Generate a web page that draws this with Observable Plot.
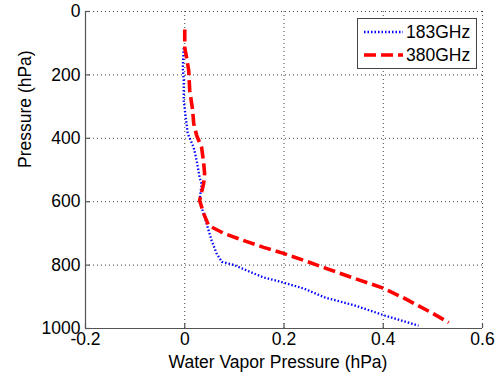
<!DOCTYPE html>
<html>
<head>
<meta charset="utf-8">
<script src="https://cdn.jsdelivr.net/npm/d3@7"></script>
<script src="https://cdn.jsdelivr.net/npm/@observablehq/plot@0.6"></script>
<style>
  html, body { margin: 0; padding: 0; background: #fff; }
  #chart svg { display: block; }
</style>
</head>
<body>
<div id="chart"></div>
<script>
// ---- Data ----
const seriesNames = ["183GHz", "380GHz"];

// 183GHz series (blue dotted)
const pressure183 = [115, 177, 218, 281, 334, 385, 429, 470, 524, 543, 596, 669, 722, 763, 790, 800, 817, 839, 855, 874, 902, 927, 959, 991];
const vapor183    = [-0.002, -0.004, -0.002, -0.002, 0.002, 0.006, 0.018, 0.024, 0.030, 0.034, 0.030, 0.044, 0.054, 0.064, 0.075, 0.100, 0.125, 0.159, 0.199, 0.240, 0.282, 0.342, 0.403, 0.471];

// 380GHz series (red dashed)
const pressure380 = [57, 114, 148, 186, 249, 312, 353, 391, 429, 476, 511, 543, 596, 637, 675, 700, 726, 744, 763, 785, 811, 842, 871, 905, 950, 981];
const vapor380    = [0, 0, 0.004, 0.008, 0.010, 0.016, 0.018, 0.024, 0.034, 0.038, 0.040, 0.038, 0.030, 0.038, 0.048, 0.079, 0.125, 0.159, 0.199, 0.240, 0.286, 0.342, 0.397, 0.443, 0.497, 0.532];

const xTicks = [-0.2, 0, 0.2, 0.4, 0.6];
const xTickLabels = ["-0.2", "0", "0.2", "0.4", "0.6"];
const yTicks = [0, 200, 400, 600, 800, 1000];
const yTickLabels = ["0", "200", "400", "600", "800", "1000"];

const xTitle = "Water Vapor Pressure (hPa)";
const yTitle = "Pressure (hPa)";

// ---- Build tables ----
const data183 = pressure183.map((p, i) => ({p, v: vapor183[i]}));
const data380 = pressure380.map((p, i) => ({p, v: vapor380[i]}));

const FONT = "'Liberation Sans', Arial, Helvetica, sans-serif";
const FS = 17.5;
const axisColor = "#555";
const blueDash = "1.5,2";
const redDash = "12,5";

const plot = Plot.plot({
  width: 497,
  height: 381,
  marginLeft: 85,
  marginRight: 15,
  marginTop: 11,
  marginBottom: 53,
  style: {fontFamily: FONT, fontSize: FS + "px", background: "#fff", color: "#000"},
  x: {domain: [-0.2, 0.6]},
  y: {domain: [0, 1000], reverse: true},
  marks: [
    Plot.gridX(xTicks.filter(d => d !== -0.2), {stroke: "#000", strokeOpacity: 0.75, strokeDasharray: "1,3"}),
    Plot.gridY(yTicks.filter(d => d !== 1000), {stroke: "#000", strokeOpacity: 0.75, strokeDasharray: "1,3"}),
    Plot.line(data183, {x: "v", y: "p", stroke: "#0000ff", strokeWidth: 2.3, strokeDasharray: blueDash, strokeLinecap: "butt"}),
    Plot.line(data380, {x: "v", y: "p", stroke: "#ff0000", strokeWidth: 3.6, strokeDasharray: redDash, strokeLinecap: "butt"}),
    // axis lines
    Plot.ruleX([-0.2], {stroke: axisColor, strokeWidth: 1.2}),
    Plot.ruleY([1000], {stroke: axisColor, strokeWidth: 1.2}),
    // inward tick marks
    Plot.ruleX(xTicks, {x: d => d, y1: 1000, y2: 1000, insetTop: 0, insetBottom: 5, stroke: axisColor, strokeWidth: 1.2}),
    Plot.ruleY(yTicks, {y: d => d, x1: -0.2, x2: -0.2, insetLeft: 0, insetRight: -5, stroke: axisColor, strokeWidth: 1.2}),
    // tick labels
    Plot.axisX(xTicks, {tickSize: 0, tickPadding: 4, tickFormat: (d) => xTickLabels[xTicks.indexOf(d)], label: null, fontSize: FS, fill: "#000"}),
    Plot.axisY(yTicks, {tickSize: 0, tickPadding: 5, tickFormat: (d) => yTickLabels[yTicks.indexOf(d)], label: null, fontSize: FS, fill: "#000"}),
    // axis titles
    Plot.text([xTitle], {frameAnchor: "bottom", dy: 39, dx: -6, fontSize: FS, fill: "#000"}),
    Plot.text([yTitle], {frameAnchor: "left", rotate: -90, dx: -60, dy: -2, fontSize: FS, fill: "#000"})
  ]
});

// ---- Legend (inside the axes, top-right) ----
const svg = d3.select(plot);
const lg = svg.append("g").attr("font-family", FONT).attr("font-size", FS).attr("text-anchor", "start");
lg.append("rect").attr("x", 357.5).attr("y", 18.5).attr("width", 119).attr("height", 50)
  .attr("fill", "#fff").attr("stroke", "#444").attr("stroke-width", 1);
const legendItems = [
  {name: seriesNames[0], stroke: "#0000ff", width: 2.3, dash: blueDash, y: 32},
  {name: seriesNames[1], stroke: "#ff0000", width: 3.6, dash: redDash, y: 55}
];
legendItems.forEach(it => {
  lg.append("line").attr("x1", 364).attr("x2", 403).attr("y1", it.y).attr("y2", it.y)
    .attr("stroke", it.stroke).attr("stroke-width", it.width).attr("stroke-dasharray", it.dash);
  lg.append("text").attr("x", 406).attr("y", it.y).attr("dy", "0.36em").attr("fill", "#000")
    .attr("text-anchor", "start").text(it.name);
});

document.getElementById("chart").appendChild(plot);
</script>
</body>
</html>
